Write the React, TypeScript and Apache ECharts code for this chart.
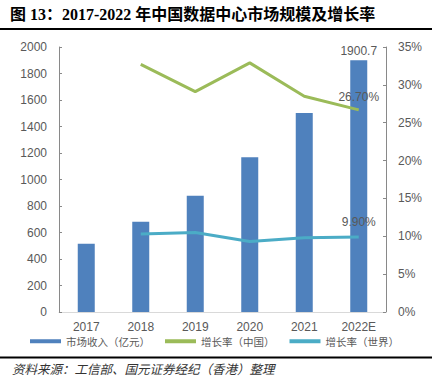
import React, { useEffect, useRef } from "react";
import * as echarts from "echarts";

const categories = ["2017", "2018", "2019", "2020", "2021", "2022E"];
const revenue = [515, 682, 878, 1167, 1502, 1900.7];
const growthChina: (number | null)[] = [null, 32.7, 29.1, 32.9, 28.5, 26.7];
const growthWorld: (number | null)[] = [null, 10.3, 10.5, 9.3, 9.8, 9.9];
const seriesNames = ["市场收入（亿元）", "增长率（中国）", "增长率（世界）"];
const titleText = "图 13：2017-2022 年中国数据中心市场规模及增长率";
const sourceText = "资料来源：工信部、国元证券经纪（香港）整理";

const labelColor = "#595959";
const sans = "'Liberation Sans', Arial, 'Noto Sans CJK SC', sans-serif";

export default function App() {
  const ref = useRef<HTMLDivElement>(null);
  useEffect(() => {
    if (!ref.current) return;
    const chart = echarts.init(ref.current, undefined, { renderer: "svg" });
    const lastIdx = categories.length - 1;
    const lineData = (arr: (number | null)[], dist: number) =>
      arr.map((v, i) =>
        i === lastIdx
          ? {
              value: v,
              label: {
                show: true,
                position: "top",
                distance: dist,
                color: labelColor,
                fontSize: 12,
                fontFamily: sans,
                formatter: (p: any) => Number(p.value).toFixed(2) + "%",
              },
            }
          : v
      );
    chart.setOption({
      animation: false,
      backgroundColor: "#ffffff",
      textStyle: { fontFamily: sans },
      grid: { left: 59, right: 46, top: 47, bottom: 79 },
      legend: {
        left: 30,
        top: 336,
        padding: 0,
        itemWidth: 31,
        itemHeight: 4,
        itemGap: 15,
        icon: "rect",
        textStyle: { fontSize: 10.5, color: labelColor, fontFamily: "'Noto Sans CJK SC', sans-serif" },
        data: seriesNames,
      },
      xAxis: {
        type: "category",
        data: categories,
        axisLine: { lineStyle: { color: "#d9d9d9" } },
        axisTick: { show: false },
        axisLabel: { color: labelColor, fontSize: 12, margin: 9 },
      },
      yAxis: [
        {
          type: "value",
          min: 0,
          max: 2000,
          interval: 200,
          splitLine: { show: false },
          axisLine: { show: true, lineStyle: { color: "#898989" } },
          axisTick: { show: true, inside: true, length: 3, lineStyle: { color: "#898989" } },
          axisLabel: { color: labelColor, fontSize: 12, margin: 12, formatter: (v: number) => String(v) },
        },
        {
          type: "value",
          min: 0,
          max: 35,
          interval: 5,
          splitLine: { show: false },
          axisLine: { show: true, lineStyle: { color: "#898989" } },
          axisTick: { show: true, inside: true, length: 3, lineStyle: { color: "#898989" } },
          axisLabel: { color: labelColor, fontSize: 12, margin: 12, formatter: "{value}%" },
        },
      ],
      series: [
        {
          name: seriesNames[0],
          type: "bar",
          barWidth: 17,
          itemStyle: { color: "#4F81BD" },
          data: revenue.map((v, i) =>
            i === lastIdx
              ? {
                  value: v,
                  label: {
                    show: true,
                    position: "top",
                    distance: 3,
                    color: labelColor,
                    fontSize: 12,
                    fontFamily: sans,
                  },
                }
              : v
          ),
        },
        {
          name: seriesNames[1],
          type: "line",
          yAxisIndex: 1,
          showSymbol: true,
          symbol: "circle",
          symbolSize: 0.1,
          lineStyle: { color: "#9BBB59", width: 3 },
          itemStyle: { color: "#9BBB59" },
          data: lineData(growthChina, 7),
        },
        {
          name: seriesNames[2],
          type: "line",
          yAxisIndex: 1,
          showSymbol: true,
          symbol: "circle",
          symbolSize: 0.1,
          lineStyle: { color: "#4BACC6", width: 3 },
          itemStyle: { color: "#4BACC6" },
          data: lineData(growthWorld, 9),
        },
      ],
      graphic: [
        {
          type: "text",
          left: 10,
          top: 6,
          style: {
            text: titleText,
            fontSize: 16,
            fontWeight: "bold",
            fill: "#000",
            fontFamily: "'Liberation Serif', 'Noto Sans CJK SC', serif",
          },
        },
        {
          type: "line",
          shape: { x1: 0, y1: 29, x2: 432, y2: 29 },
          style: { stroke: "#000", lineWidth: 2 },
        },
        {
          type: "line",
          shape: { x1: 0, y1: 357.5, x2: 432, y2: 357.5 },
          style: { stroke: "#000", lineWidth: 2 },
        },
        {
          type: "text",
          left: 12,
          top: 362,
          style: {
            text: sourceText,
            fontSize: 12.5,
            fontStyle: "italic",
            fontWeight: "normal",
            fill: "#333",
            fontFamily: "'Noto Sans CJK SC', serif",
          },
        },
      ],
    });
    return () => chart.dispose();
  }, []);
  return (
    <div
      ref={ref}
      style={{ position: "fixed", left: 0, top: 0, width: 432, height: 391 }}
    />
  );
}
